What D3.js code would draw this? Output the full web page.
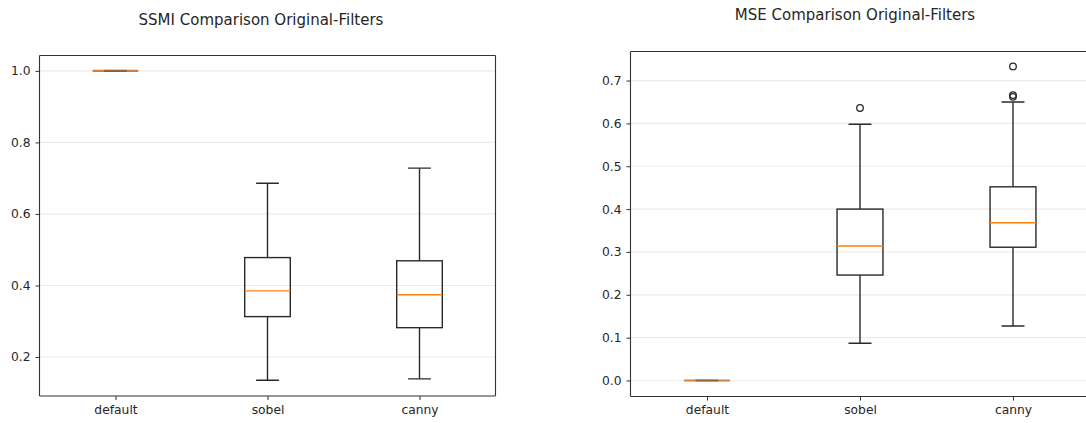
<!DOCTYPE html>
<html>
<head>
<meta charset="utf-8">
<script src="https://cdn.jsdelivr.net/npm/d3@7"></script>
<style>
  body { margin: 0; background: #fff; }
  svg { display: block; }
  text { font-family: "DejaVu Sans", sans-serif; fill: #262626; }
</style>
</head>
<body>
<svg id="chart" width="1086" height="423"></svg>
<script>
const categories = ["default", "sobel", "canny"];

// SSMI stats: [lowerWhisker, q1, median, q3, upperWhisker]
const ssmiStats = [
  [1.0, 1.0, 1.0, 1.0, 1.0],
  [0.135, 0.313, 0.385, 0.478, 0.686],
  [0.139, 0.282, 0.374, 0.469, 0.728]
];
const ssmiFliers = [[], [], []];
const ssmiTicks = [0.2, 0.4, 0.6, 0.8, 1.0];

// MSE stats
const mseStats = [
  [0.0, 0.0, 0.0, 0.0, 0.0],
  [0.087, 0.246, 0.314, 0.400, 0.598],
  [0.127, 0.311, 0.368, 0.452, 0.650]
];
const mseFliers = [[], [0.636], [0.662, 0.666, 0.733]];
const mseTicks = [0.0, 0.1, 0.2, 0.3, 0.4, 0.5, 0.6, 0.7];

const titles = ["SSMI Comparison Original-Filters", "MSE Comparison Original-Filters"];

const svg = d3.select("#chart");

function drawPanel(cfg) {
  const g = svg.append("g");
  const x = d3.scaleLinear().domain([0.5, categories.length + 0.5]).range([cfg.left, cfg.right]);
  const y = d3.scaleLinear().domain(cfg.yDomain).range([cfg.bottom, cfg.top]);
  const bw = 0.3, cw = 0.15;

  const clipId = "clip" + cfg.id;
  svg.append("clipPath").attr("id", clipId)
    .append("rect").attr("x", cfg.left).attr("y", cfg.top - 10)
    .attr("width", cfg.right - cfg.left).attr("height", cfg.bottom - cfg.top + 20);

  // grid
  g.append("g").selectAll("line").data(cfg.ticks).join("line")
    .attr("x1", cfg.left).attr("x2", cfg.right)
    .attr("y1", d => y(d)).attr("y2", d => y(d))
    .attr("stroke", "#ebebeb").attr("stroke-width", 1.2);

  const plot = g.append("g").attr("clip-path", `url(#${clipId})`);
  const stroke = "#2a2a2a";
  const sw = 1.4;
  categories.forEach((c, i) => {
    const s = cfg.stats[i];
    const p = i + 1;
    const flat = s[1] === s[3];
    const gg = plot.append("g");
    gg.append("line").attr("x1", x(p)).attr("x2", x(p)).attr("y1", y(s[0])).attr("y2", y(s[1]))
      .attr("stroke", stroke).attr("stroke-width", sw);
    gg.append("line").attr("x1", x(p)).attr("x2", x(p)).attr("y1", y(s[3])).attr("y2", y(s[4]))
      .attr("stroke", stroke).attr("stroke-width", sw);
    if (!flat) {
      gg.append("rect").attr("x", x(p - bw / 2)).attr("width", x(p + bw / 2) - x(p - bw / 2))
        .attr("y", y(s[3])).attr("height", y(s[1]) - y(s[3]))
        .attr("fill", "none").attr("stroke", stroke).attr("stroke-width", sw);
    }
    gg.append("line").attr("x1", x(p - bw / 2)).attr("x2", x(p + bw / 2))
      .attr("y1", y(s[2])).attr("y2", y(s[2]))
      .attr("stroke", flat ? "#d0803c" : "#ff7f0e").attr("stroke-width", flat ? 2.2 : 1.4);
    [s[0], s[4]].forEach(v => {
      gg.append("line").attr("x1", x(p - cw / 2)).attr("x2", x(p + cw / 2))
        .attr("y1", y(v)).attr("y2", y(v))
        .attr("stroke", stroke).attr("stroke-width", flat ? 2.2 : sw)
        .attr("opacity", flat ? 0.2 : 1);
    });
    gg.selectAll("circle").data(cfg.fliers[i]).join("circle")
      .attr("cx", x(p)).attr("cy", d => y(d)).attr("r", 3.3)
      .attr("fill", "none").attr("stroke", stroke).attr("stroke-width", 1.3);
  });

  // spines
  const sp = g.append("g").attr("stroke", "#333").attr("stroke-width", 1.1).attr("fill", "none");
  sp.append("line").attr("x1", cfg.left).attr("x2", cfg.right).attr("y1", cfg.top).attr("y2", cfg.top);
  sp.append("line").attr("x1", cfg.left).attr("x2", cfg.right).attr("y1", cfg.bottom).attr("y2", cfg.bottom);
  sp.append("line").attr("x1", cfg.left).attr("x2", cfg.left).attr("y1", cfg.top).attr("y2", cfg.bottom);
  sp.append("line").attr("x1", cfg.right).attr("x2", cfg.right).attr("y1", cfg.top).attr("y2", cfg.bottom);

  const ya = d3.axisLeft(y).tickValues(cfg.ticks).tickFormat(d3.format(".1f")).tickSize(4).tickPadding(5);
  const yg = g.append("g").attr("transform", `translate(${cfg.left},0)`).call(ya);
  yg.select(".domain").remove();
  yg.selectAll(".tick line").attr("stroke", "#333");
  yg.selectAll("text").attr("font-size", 12.3).attr("font-family", "DejaVu Sans").attr("fill", "#262626");

  const xa = d3.axisBottom(x).tickValues(categories.map((c, i) => i + 1))
    .tickFormat((d, i) => categories[i]).tickSize(4).tickPadding(5);
  const xg = g.append("g").attr("transform", `translate(0,${cfg.bottom})`).call(xa);
  xg.select(".domain").remove();
  xg.selectAll(".tick line").attr("stroke", "#333");
  xg.selectAll("text").attr("font-size", 12.3).attr("font-family", "DejaVu Sans").attr("fill", "#262626");

  g.append("text").attr("x", cfg.titleX).attr("y", cfg.titleY).attr("text-anchor", "middle")
    .attr("font-size", 15).text(cfg.title);
}

drawPanel({
  id: 1, left: 39.5, right: 495.5, top: 55.5, bottom: 396,
  yDomain: [0.091, 1.043], ticks: ssmiTicks, stats: ssmiStats, fliers: ssmiFliers,
  title: titles[0], titleX: 261, titleY: 25
});
drawPanel({
  id: 2, left: 630.5, right: 1089.5, top: 51.5, bottom: 396.5,
  yDomain: [-0.0374, 0.7678], ticks: mseTicks, stats: mseStats, fliers: mseFliers,
  title: titles[1], titleX: 855, titleY: 19.5
});
</script>
</body>
</html>
